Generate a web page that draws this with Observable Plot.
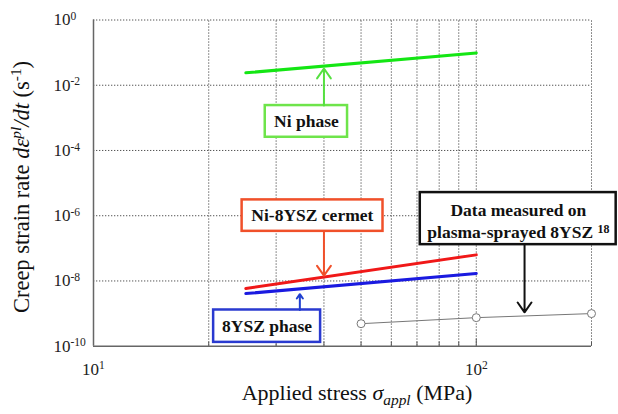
<!DOCTYPE html>
<html>
<head>
<meta charset="utf-8">
<script src="https://cdn.jsdelivr.net/npm/d3@7"></script>
<script src="https://cdn.jsdelivr.net/npm/@observablehq/plot@0.6"></script>
<style>
  html, body { margin: 0; padding: 0; background: #fff; }
  #chart svg { display: block; }
  #chart svg text { font-family: "Liberation Serif", "Tinos", "Times New Roman", "DejaVu Serif", serif; }
</style>
</head>
<body>
<div id="chart"></div>
<script>
// ---- data ----
const stressNi = [25, 100];
const rateNi = [0.024, 0.098];
const stressCermet = [25, 100];
const rateCermet = [5.9e-9, 6.3e-8];
const stressYSZ = [25, 100];
const rateYSZ = [4.1e-9, 1.7e-8];
const stressSprayed = [50, 100, 200];
const rateSprayed = [4.9e-10, 7.5e-10, 1.0e-9];

const xTickValues = [10, 100];
const xTickLabels = ["10^1", "10^2"];
const yTickValues = [1, 1e-2, 1e-4, 1e-6, 1e-8, 1e-10];
const yTickLabels = ["10^0", "10^-2", "10^-4", "10^-6", "10^-8", "10^-10"];
const xGridValues = [20, 30, 40, 50, 60, 70, 80, 90, 100, 200];
const yGridValues = [1, 1e-2, 1e-4, 1e-6, 1e-8];
const xMinorTicks = [20, 30, 40, 50, 60, 70, 80, 90, 200];
const xMajorTicks = [100];

// annotation boxes (data coordinates)
const boxLabels = ["Ni phase", "Ni-8YSZ cermet", "8YSZ phase", ""];
const boxX1 = [28.1, 24.45, 20.6, 71.4];
const boxX2 = [46.1, 57.06, 39.2, 232];
const boxY1 = [10 ** -2.623, 10 ** -5.515, 10 ** -8.890, 10 ** -5.291];
const boxY2 = [10 ** -3.595, 10 ** -6.479, 10 ** -9.883, 10 ** -6.887];
const boxTextX = [36.0, 37.3, 28.4];
const boxTextY = [10 ** -3.109, 10 ** -5.997, 10 ** -9.387];
const boxColors = ["#6ee44a", "#f0502a", "#2a3ad0", "#111111"];
const noteLines = ["Data measured on", "plasma-sprayed 8YSZ ^18"];
const noteX = [128.8, 128.8];
const noteY = [10 ** -5.844, 10 ** -6.509];

// arrows (data coordinates)
const arrowX = [40, 40, 34.6, 133.7];
const arrowFrom = [10 ** -2.623, 10 ** -6.479, 10 ** -8.890, 10 ** -6.887];
const arrowTo = [10 ** -1.488, 10 ** -7.837, 10 ** -8.405, 10 ** -8.963];
const arrowColors = ["#55e040", "#f0502a", "#2040d0", "#111111"];

// ---- build tables ----
const toPts = (xs, ys) => xs.map((x, i) => ({x, y: ys[i]}));
const boxes = boxX1.map((_, i) => ({x1: boxX1[i], x2: boxX2[i], y1: boxY1[i], y2: boxY2[i], c: boxColors[i]}));
const boxTexts = boxTextX.map((x, i) => ({x, y: boxTextY[i], t: boxLabels[i]}));
const notes = noteLines.map((t, i) => ({x: noteX[i], y: noteY[i], t}));
const arrows = arrowX.map((x, i) => ({x, y1: arrowFrom[i], y2: arrowTo[i], c: arrowColors[i]}));
const xTicks = xTickValues.map((v, i) => ({v, t: xTickLabels[i]}));
const yTicks = yTickValues.map((v, i) => ({v, t: yTickLabels[i]}));

const serif = "Liberation Serif, Tinos, Times New Roman, DejaVu Serif, serif";
const gridStyle = {stroke: "#555", strokeWidth: 1, strokeDasharray: "1.3,1.7"};

const chart = Plot.plot({
  width: 618,
  height: 414,
  marginLeft: 93,
  marginRight: 27,
  marginTop: 19.5,
  marginBottom: 68.3,
  x: {type: "log", domain: [10, 200], axis: null},
  y: {type: "log", domain: [1e-10, 1], axis: null},
  style: {fontFamily: serif, background: "#fff", color: "#111"},
  marks: [
    Plot.ruleX(xGridValues, {...gridStyle, y1: 1e-10, y2: 1}),
    Plot.ruleY(yGridValues, {...gridStyle, x1: 10, x2: 200}),
    Plot.ruleX([10], {stroke: "#666", strokeWidth: 1.5, y1: 1e-10, y2: 1}),
    Plot.ruleY([1e-10], {stroke: "#666", strokeWidth: 1.5, x1: 10, x2: 200}),
    Plot.ruleX(xMinorTicks, {stroke: "#555", strokeWidth: 1, y1: 1e-10, y2: 10 ** -9.87}),
    Plot.ruleX(xMajorTicks, {stroke: "#555", strokeWidth: 1, y1: 1e-10, y2: 10 ** -9.78}),
    // series
    Plot.line(toPts(stressNi, rateNi), {x: "x", y: "y", stroke: "#14e614", strokeWidth: 3}),
    Plot.line(toPts(stressCermet, rateCermet), {x: "x", y: "y", stroke: "#f01818", strokeWidth: 3}),
    Plot.line(toPts(stressYSZ, rateYSZ), {x: "x", y: "y", stroke: "#1a1ae0", strokeWidth: 3}),
    Plot.line(toPts(stressSprayed, rateSprayed), {x: "x", y: "y", stroke: "#777", strokeWidth: 1}),
    Plot.dot(toPts(stressSprayed, rateSprayed), {x: "x", y: "y", r: 4, fill: "#fff", stroke: "#777", strokeWidth: 1}),
    // annotation boxes
    Plot.rect(boxes, {x1: "x1", x2: "x2", y1: "y1", y2: "y2", fill: "#fff", stroke: d => d.c, strokeWidth: 2.5}),
    Plot.text(boxTexts, {x: "x", y: "y", text: "t", fontSize: 17.5, fontWeight: "bold", fill: "#111"}),
    Plot.text(notes, {x: "x", y: "y", text: "t", fontSize: 17.5, fontWeight: "bold", fill: "#111"}),
    Plot.arrow(arrows, {x: "x", y1: "y1", y2: "y2", stroke: d => d.c, strokeWidth: 2, headLength: 9, headAngle: 70}),
    // tick labels
    Plot.text(xTicks, {x: "v", y: 1e-10, text: "t", dy: 23, fontSize: 17, textAnchor: "middle", fill: "#222"}),
    Plot.text(yTicks, {y: "v", frameAnchor: "left", dx: -40, text: "t", fontSize: 17, textAnchor: "start", fill: "#222"})
  ]
});

// render "^" as superscripts
d3.select(chart).selectAll("text").each(function () {
  const s = this.textContent;
  if (!s.includes("^")) return;
  const [base, sup] = s.split("^");
  this.textContent = "";
  const t = d3.select(this);
  t.append("tspan").text(base);
  t.append("tspan").attr("dy", "-0.45em").attr("font-size", "0.68em").text(sup);
});

const svg = d3.select(chart);
// y axis label
const yl = svg.append("text")
  .attr("transform", "translate(28.5,187) rotate(-90)")
  .attr("text-anchor", "middle")
  .attr("font-size", 22.5)
  .attr("fill", "#111");
yl.append("tspan").text("Creep strain rate ");
yl.append("tspan").attr("font-style", "italic").text("d\u03b5");
yl.append("tspan").attr("font-style", "italic").attr("font-size", "0.68em").attr("dy", "-0.5em").text("pl");
yl.append("tspan").attr("font-style", "italic").attr("dy", "0.34em").text("/dt");
yl.append("tspan").text(" (s");
yl.append("tspan").attr("font-size", "0.68em").attr("dy", "-0.5em").text("-1");
yl.append("tspan").attr("dy", "0.34em").text(")");

// x axis label
const xl = svg.append("text")
  .attr("x", 357)
  .attr("y", 400)
  .attr("text-anchor", "middle")
  .attr("font-size", 22)
  .attr("fill", "#111");
xl.append("tspan").text("Applied stress ");
xl.append("tspan").attr("font-style", "italic").text("\u03c3");
xl.append("tspan").attr("font-style", "italic").attr("font-size", "0.7em").attr("dy", "0.3em").text("appl");
xl.append("tspan").attr("dy", "-0.21em").text(" (MPa)");

document.getElementById("chart").append(chart);
</script>
</body>
</html>
